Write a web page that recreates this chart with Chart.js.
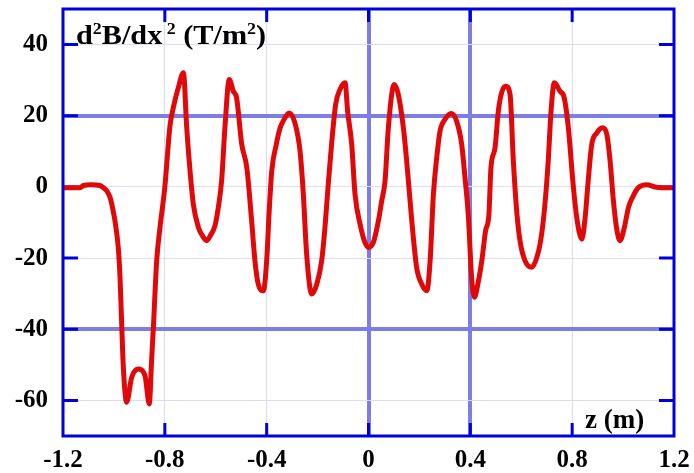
<!DOCTYPE html>
<html>
<head>
<meta charset="utf-8">
<script src="https://cdn.jsdelivr.net/npm/chart.js@4/dist/chart.umd.min.js"></script>
<style>
  html, body { margin: 0; padding: 0; background: #fff; }
  #grafico { display: block; }
</style>
</head>
<body>
<canvas id="grafico" width="694" height="473"></canvas>
<script>
// posicao ao longo do eixo (m)
var zPos = [
  -1.200, -1.160, -1.133, -1.120, -1.090, -1.055, -1.040, -1.028, -1.015, -1.005,
  -0.996, -0.983, -0.976, -0.969, -0.963, -0.950, -0.930, -0.904, -0.878, -0.861,
  -0.852, -0.845, -0.832, -0.819, -0.800, -0.780, -0.767, -0.747, -0.727, -0.714,
  -0.701, -0.688, -0.668, -0.650, -0.636, -0.620, -0.603, -0.590, -0.577, -0.564,
  -0.547, -0.531, -0.518, -0.498, -0.478, -0.459, -0.446, -0.433, -0.413, -0.400,
  -0.390, -0.380, -0.362, -0.347, -0.335, -0.312, -0.289, -0.269, -0.256, -0.243,
  -0.223, -0.203, -0.184, -0.171, -0.158, -0.145, -0.129, -0.112, -0.092, -0.082,
  -0.066, -0.053, -0.033, -0.014, 0.000, 0.019, 0.039, 0.052, 0.065, 0.078,
  0.101, 0.117, 0.137, 0.150, 0.170, 0.189, 0.209, 0.229, 0.242, 0.255,
  0.268, 0.281, 0.301, 0.324, 0.346, 0.366, 0.379, 0.392, 0.405, 0.416,
  0.431, 0.445, 0.460, 0.473, 0.481, 0.497, 0.510, 0.523, 0.539, 0.556,
  0.569, 0.582, 0.595, 0.615, 0.641, 0.665, 0.680, 0.693, 0.706, 0.717,
  0.730, 0.752, 0.769, 0.785, 0.805, 0.818, 0.838, 0.851, 0.864, 0.877,
  0.897, 0.919, 0.936, 0.949, 0.962, 0.976, 0.988, 1.005, 1.021, 1.040,
  1.060, 1.093, 1.125, 1.152, 1.200
];

// segunda derivada do campo, d2B/dx2 (T/m2)
var d2B = [
  -0.2, -0.2, -0.2, 0.4, 0.6, 0.4, -0.3, -1.1, -3.0, -6.0,
  -9.5, -17.0, -25.4, -39.5, -50.7, -60.5, -53.5, -51.2, -53.0, -61.0,
  -48.8, -39.5, -20.8, -11.4, 0.0, 17.0, 22.2, 27.9, 32.1, 16.6,
  4.5, -4.9, -11.4, -14.0, -15.1, -13.5, -10.9, -5.8, 1.7, 16.6,
  30.2, 26.9, 25.0, 12.0, 5.4, -9.5, -20.8, -27.3, -29.2, -20.8,
  -6.7, 4.5, 12.0, 16.6, 18.5, 20.8, 18.0, 10.1, -2.0, -18.9,
  -30.1, -27.3, -20.8, -11.4, 0.8, 12.0, 23.2, 27.4, 29.3, 21.3,
  12.0, -2.0, -10.5, -15.6, -17.0, -15.6, -9.5, -3.9, 1.7, 16.6,
  28.8, 26.0, 16.6, 7.3, -9.5, -22.6, -27.3, -29.2, -20.8, -2.0,
  8.2, 15.7, 19.0, 20.6, 18.5, 12.0, 2.6, -8.0, -25.4, -31.0,
  -26.8, -20.8, -12.3, -7.7, 5.4, 11.0, 21.3, 26.5, 28.3, 26.0,
  7.3, -6.7, -15.1, -20.8, -22.6, -18.9, -13.3, -4.9, 7.3, 21.3,
  29.3, 26.9, 25.0, 16.6, -0.2, -8.6, -14.7, -8.6, 2.6, 12.0,
  15.2, 16.6, 14.8, 7.3, -3.9, -12.3, -15.1, -11.4, -5.8, -2.5,
  -0.2, 0.6, 0.0, -0.2, -0.2
];

var xTicks = [-1.2, -0.8, -0.4, 0, 0.4, 0.8, 1.2];
var yTicks = [-60, -40, -20, 0, 20, 40];
var xFortes = [0, 0.4];     // linhas de grade destacadas
var yFortes = [20, -40];

var AZUL = '#0000dd';
var GRADE_FORTE = '#7d7de6';
var GRADE_FRACA = '#dcdcf8';
var SERIF = '"Liberation Serif", "Times New Roman", serif';

function temValor(lista, v) {
  return lista.some(function(a){ return Math.abs(a - v) < 1e-6; });
}

// moldura azul com marcas internas
var moldura = {
  id: 'moldura',
  beforeDatasetsDraw: function(chart) {
    var c = chart.ctx, a = chart.chartArea;
    var sx = chart.scales.x, sy = chart.scales.y;
    c.save();
    c.strokeStyle = AZUL;
    c.lineWidth = 3;
    c.beginPath();
    yTicks.forEach(function(v){
      var py = sy.getPixelForValue(v);
      c.moveTo(a.left, py); c.lineTo(a.left + 15, py);
      c.moveTo(a.right - 15, py); c.lineTo(a.right, py);
    });
    xTicks.slice(1, -1).forEach(function(v){
      var px = sx.getPixelForValue(v);
      c.moveTo(px, a.bottom); c.lineTo(px, a.bottom - 13);
      c.moveTo(px, a.top); c.lineTo(px, a.top + 13);
    });
    c.stroke();
    c.restore();
  },
  afterDatasetsDraw: function(chart) {
    var c = chart.ctx, a = chart.chartArea;
    c.save();
    c.strokeStyle = AZUL;
    c.lineWidth = 3;
    c.strokeRect(a.left, a.top, a.right - a.left, a.bottom - a.top);
    c.restore();
  }
};

// textos dentro da area do grafico (com expoentes)
function escreve(c, partes, x, base, tam, tamSup) {
  partes.forEach(function(p){
    c.font = 'bold ' + (p[1] ? tamSup : tam) + 'px ' + SERIF;
    c.fillText(p[0], x, p[1] ? base - 10 : base);
    x += c.measureText(p[0]).width;
  });
}

var rotulos = {
  id: 'rotulos',
  afterDraw: function(chart) {
    var c = chart.ctx, a = chart.chartArea;
    c.save();
    c.fillStyle = '#000';
    c.textBaseline = 'alphabetic';
    c.textAlign = 'left';
    c.save();
    c.translate(a.left + 13, a.top + 35);
    c.scale(1.12, 1);
    escreve(c, [['d', 0], ['2', 1], ['B/dx', 0], [' 2', 1], [' (T/m', 0], ['2', 1], [')', 0]], 0, 0, 27, 16);
    c.restore();
    c.font = 'bold 27px ' + SERIF;
    c.fillText('z (m)', 585, a.bottom - 8);
    c.restore();
  }
};

var pontos = zPos.map(function(z, i){ return { x: z, y: d2B[i] }; });

new Chart(document.getElementById('grafico'), {
  type: 'line',
  data: {
    datasets: [{
      data: pontos,
      borderColor: '#e00808',
      borderWidth: 5,
      pointRadius: 0,
      fill: false,
      cubicInterpolationMode: 'monotone'
    }]
  },
  options: {
    responsive: false,
    animation: false,
    devicePixelRatio: 1,
    layout: { padding: { top: 9, right: 20, left: 0, bottom: 0 } },
    plugins: { legend: { display: false }, tooltip: { enabled: false } },
    scales: {
      x: {
        type: 'linear',
        min: -1.2, max: 1.2,
        afterBuildTicks: function(s){ s.ticks = xTicks.map(function(v){ return { value: v }; }); },
        afterFit: function(s){ s.height = 37; s.paddingLeft = 0; s.paddingRight = 0; },
        border: { display: false },
        grid: {
          drawTicks: false,
          color: function(ctx){ return temValor(xFortes, ctx.tick.value) ? GRADE_FORTE : GRADE_FRACA; },
          lineWidth: function(ctx){ return temValor(xFortes, ctx.tick.value) ? 4 : 1; }
        },
        ticks: {
          padding: 10,
          maxRotation: 0,
          color: '#000',
          font: { family: SERIF, size: 25, weight: 'bold' },
          callback: function(v){ return String(v); }
        }
      },
      y: {
        type: 'linear',
        min: -70, max: 50,
        afterBuildTicks: function(s){ s.ticks = yTicks.map(function(v){ return { value: v }; }); },
        afterFit: function(s){ s.width = 63; s.paddingTop = 0; s.paddingBottom = 0; },
        border: { display: false },
        grid: {
          drawTicks: false,
          color: function(ctx){ return temValor(yFortes, ctx.tick.value) ? GRADE_FORTE : GRADE_FRACA; },
          lineWidth: function(ctx){ return temValor(yFortes, ctx.tick.value) ? 4 : 1; }
        },
        ticks: {
          padding: 15,
          color: '#000',
          font: { family: SERIF, size: 25, weight: 'bold' },
          callback: function(v){ return String(v); }
        }
      }
    }
  },
  plugins: [moldura, rotulos]
});
</script>
</body>
</html>
